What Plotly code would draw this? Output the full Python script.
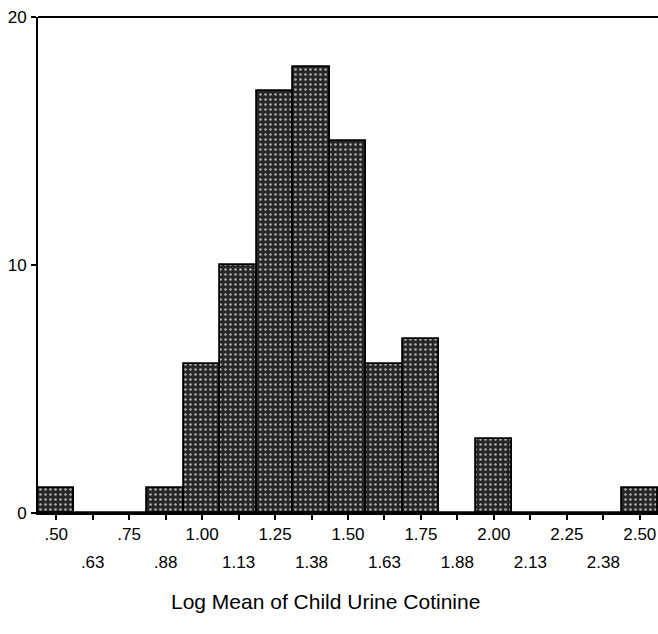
import plotly.graph_objects as go

# Data
bin_centers = [0.500, 0.625, 0.750, 0.875, 1.000, 1.125, 1.250, 1.375, 1.500,
               1.625, 1.750, 1.875, 2.000, 2.125, 2.250, 2.375, 2.500]
counts = [1, 0, 0, 1, 6, 10, 17, 18, 15, 6, 7, 0, 3, 0, 0, 0, 1]
tick_labels = [".50", ".63", ".75", ".88", "1.00", "1.13", "1.25", "1.38", "1.50",
               "1.63", "1.75", "1.88", "2.00", "2.13", "2.25", "2.38", "2.50"]
y_ticks = [0, 10, 20]
x_title = "Log Mean of Child Urine Cotinine"

bin_width = 0.125
font_family = "Liberation Sans, Arial, sans-serif"

upper_text = [t if i % 2 == 0 else "" for i, t in enumerate(tick_labels)]
lower_text = [t if i % 2 == 1 else "" for i, t in enumerate(tick_labels)]

fig = go.Figure()
fig.add_trace(go.Bar(
    x=bin_centers, y=counts, width=bin_width,
    marker=dict(
        color="#262626",
        line=dict(color="black", width=1.8),
        pattern=dict(shape=".", fgcolor="#b0b0b0", bgcolor="#262626",
                     size=5, solidity=0.2, fillmode="replace"),
    ),
    showlegend=False, hoverinfo="skip",
))
# invisible trace to carry the second row of tick labels
fig.add_trace(go.Scatter(x=[bin_centers[0]], y=[0], xaxis="x2", mode="markers",
                         marker=dict(opacity=0), showlegend=False, hoverinfo="skip"))

x_range = [bin_centers[0] - bin_width / 2, bin_centers[-1] + bin_width / 2]

fig.update_layout(
    width=658, height=634,
    margin=dict(l=38, r=0, t=17, b=121),
    paper_bgcolor="white", plot_bgcolor="white",
    bargap=0,
    font=dict(family=font_family, size=17, color="black"),
    xaxis=dict(
        range=x_range, tickmode="array", tickvals=bin_centers, ticktext=upper_text,
        ticks="outside", ticklen=5, tickwidth=1.5, tickcolor="black",
        showline=True, linecolor="black", linewidth=2,
        showgrid=False, zeroline=False, fixedrange=True,
        tickfont=dict(size=17), ticklabelstandoff=0,
    ),
    xaxis2=dict(
        range=x_range, overlaying="x", anchor="y", side="bottom",
        tickmode="array", tickvals=bin_centers, ticktext=lower_text,
        ticks="", showline=False, showgrid=False, zeroline=False,
        tickfont=dict(size=17), ticklabelstandoff=37,
    ),
    yaxis=dict(
        range=[0, 20], tickmode="array", tickvals=y_ticks,
        ticks="outside", ticklen=5, tickwidth=1.5, tickcolor="black",
        showline=True, linecolor="black", linewidth=2,
        showgrid=False, zeroline=False, tickfont=dict(size=17),
        ticklabelstandoff=1,
    ),
    shapes=[dict(type="line", xref="paper", yref="paper", x0=0, x1=1, y0=1, y1=1,
                 line=dict(color="black", width=2))],
    annotations=[dict(text=x_title, xref="paper", yref="paper", x=0.463, y=0,
                      yshift=-88, showarrow=False, yanchor="middle",
                      font=dict(size=21))],
)

fig.write_html("out.html")
